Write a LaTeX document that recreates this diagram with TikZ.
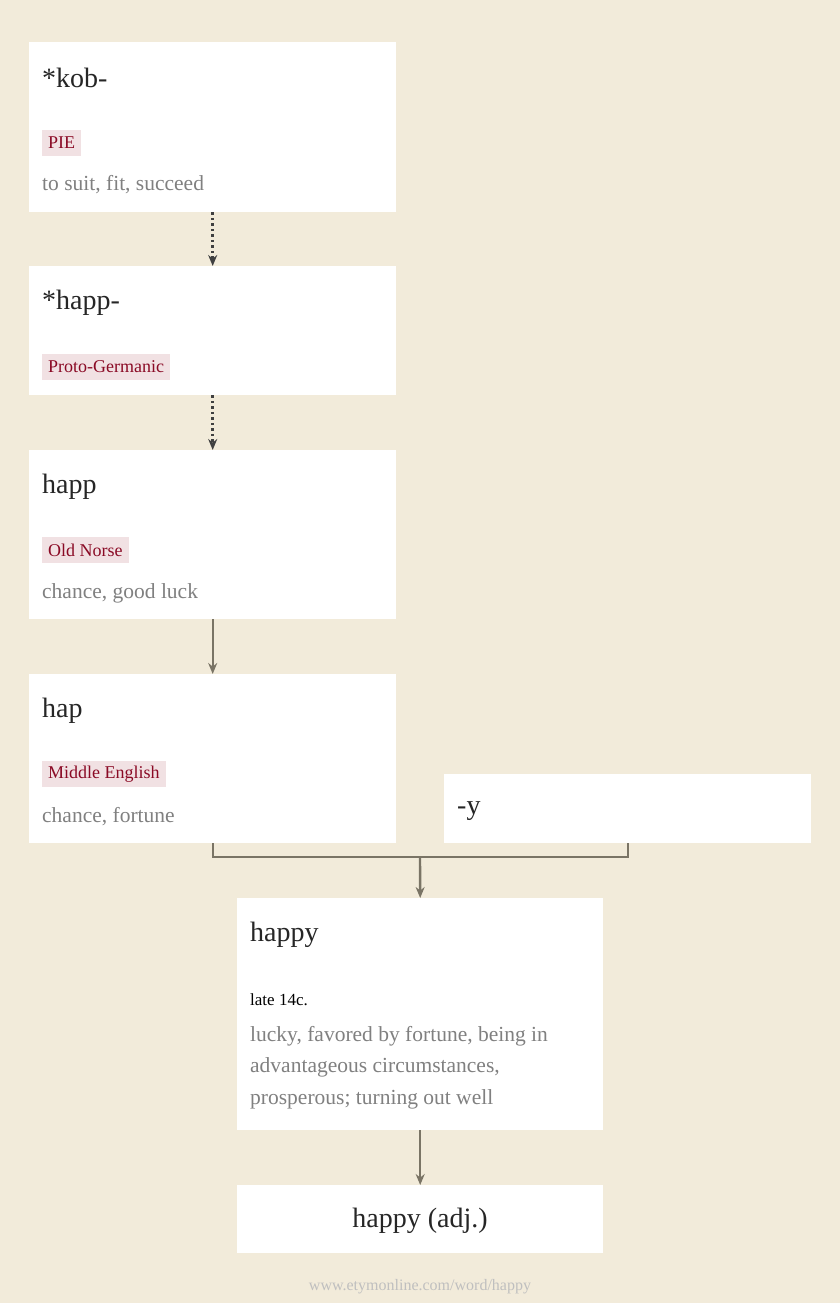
\documentclass[tikz,border=0pt]{standalone}
\usepackage{fontspec}
\setmainfont{Liberation Serif}
\usetikzlibrary{arrows.meta}
\definecolor{bg}{HTML}{F2EBDA}
\definecolor{tagbg}{HTML}{F1E1E3}
\definecolor{tagfg}{HTML}{8A0A25}
\definecolor{gl}{HTML}{808080}
\definecolor{ln}{HTML}{7A7465}
\tikzset{x=1pt,y=-1pt,
 card/.style={fill=white,draw=none,inner sep=0},
 ttl/.style={anchor=west,font=\fontsize{28}{32}\selectfont,text=black!85,inner sep=0},
 tag/.style={anchor=west,fill=tagbg,text=tagfg,font=\fontsize{18}{20}\selectfont,inner xsep=6pt,inner ysep=4pt,minimum height=26pt},
 gloss/.style={anchor=west,font=\fontsize{21.5}{31.5}\selectfont,text=gl,inner sep=0,align=left},
 arr/.style={draw=ln,line width=2.4pt,-{Stealth[length=11pt,width=9pt]}},
 dots/.style={draw=black!75,line width=2.8pt,dash pattern=on 2.5pt off 3pt,-{Stealth[length=11pt,width=9pt]}}}
\begin{document}
\begin{tikzpicture}
\fill[bg] (0,0) rectangle (840,1303);
\useasboundingbox (0,0) rectangle (840,1303);
\node[card,minimum width=367,minimum height=170,anchor=north west] (k) at (29,42) {};
\node[card,minimum width=367,minimum height=129,anchor=north west] (hp) at (29,266) {};
\node[card,minimum width=367,minimum height=169,anchor=north west] (on) at (29,450) {};
\node[card,minimum width=367,minimum height=169,anchor=north west] (me) at (29,674) {};
\node[card,minimum width=367,minimum height=69,anchor=north west] (y) at (444,774) {};
\node[card,minimum width=366,minimum height=232,anchor=north west] (h) at (237,898) {};
\node[card,minimum width=366,minimum height=68,anchor=north west] (a) at (237,1185) {};
\node[ttl] (t1) at (42,78) {*kob-};
\node[tag] (g1) at (42,143) {PIE};
\node[gloss] (d1) at (42,185) {to suit, fit, succeed};
\node[ttl] (t2) at (42,303) {*happ-};
\node[tag] (g2) at (42,367) {Proto-Germanic};
\node[ttl] (t3) at (42,487) {happ};
\node[tag] (g3) at (42,550) {Old Norse};
\node[gloss] (d3) at (42,593) {chance, good luck};
\node[ttl] (t4) at (42,711) {hap};
\node[tag] (g4) at (42,774) {Middle English};
\node[gloss] (d4) at (42,817) {chance, fortune};
\node[ttl] (t5) at (457,811) {-y};
\node[ttl] (t6) at (250,935) {happy};
\node[anchor=west,inner sep=0,font=\fontsize{17}{20}\selectfont] (dt) at (250,1000) {late 14c.};
\node[gloss,anchor=north west] (d6) at (250,1026) {lucky, favored by fortune, being in\\advantageous circumstances,\\prosperous; turning out well};
\node[inner sep=0,font=\fontsize{28}{32}\selectfont,text=black!85] (t7) at (420,1221) {happy (adj.)};
\node[inner sep=0,font=\fontsize{16}{18}\selectfont,text=black!25] (url) at (420,1287) {www.etymonline.com/word/happy};
\draw[dots] (k.south) -- (hp.north);
\draw[dots] (hp.south) -- (on.north);
\draw[arr] (on.south) -- (me.north);
\coordinate (j) at (420,857);
\draw[draw=ln,line width=2.4pt] (me.south) |- (j) -| (y.south);
\draw[arr] (j) -- (h.north);
\draw[arr] (h.south) -- (a.north);
\end{tikzpicture}
\end{document}
